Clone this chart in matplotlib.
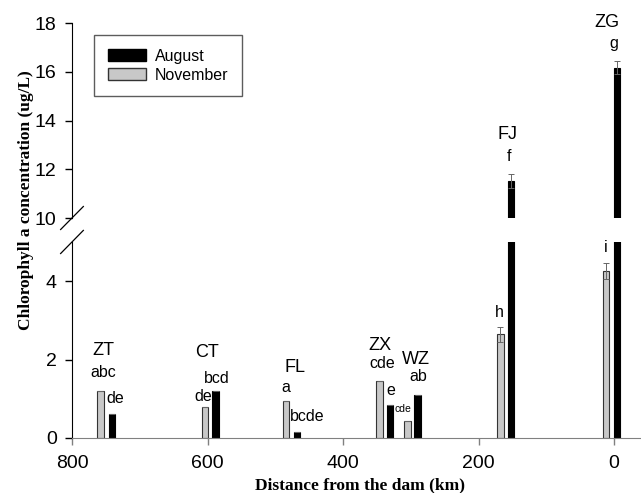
import numpy as np
import matplotlib
matplotlib.use("Agg")
import matplotlib.pyplot as plt
from matplotlib.patches import Patch

plt.rcParams['font.family'] = ['Liberation Sans', 'DejaVu Sans']

# sampling sites, distance from the dam (km)
sites = ["ZT", "CT", "FL", "ZX", "WZ", "FJ", "ZG"]
nov_x = [758, 604, 484, 346, 305, 168, 12]
aug_x = [741, 588, 468, 331, 290, 152, -4]

# chlorophyll a (ug/L)
nov_val = [1.21, 0.78, 0.94, 1.45, 0.43, 2.64, 4.26]
aug_val = [0.60, 1.20, 0.14, 0.85, 1.09, 11.52, 16.17]
nov_err = [0.0, 0.0, 0.0, 0.0, 0.0, 0.18, 0.20]
aug_err = [0.0, 0.0, 0.0, 0.0, 0.0, 0.28, 0.26]

# significance letters (text, x, y)
site_lbl = [("ZT", 754, 2.24), ("CT", 601, 2.17), ("FL", 471, 1.79),
            ("ZX", 345, 2.35), ("WZ", 292, 1.99), ("FJ", 158, 13.41),
            ("ZG", 10, 18.04)]
letters = [("abc", 754, 1.68), ("de", 736, 1.00), ("de", 606, 1.07),
           ("bcd", 586, 1.53), ("a", 484, 1.30), ("bcde", 453, 0.56),
           ("cde", 342, 1.89), ("e", 329, 1.22), ("ab", 289, 1.58),
           ("h", 170, 3.21), ("i", 12, 4.87), ("f", 155, 12.51),
           ("g", 0, 17.18)]
small_letters = [("cde", 311, 0.74)]

gray = "#c8c8c8"
w = 9.5

fig = plt.figure(figsize=(6.41, 4.93), dpi=100)
ax_lo = fig.add_axes([0.1123, 0.1116, 0.886, 0.3976])
ax_hi = fig.add_axes([0.1123, 0.5578, 0.886, 0.3955])

for ax in (ax_lo, ax_hi):
    ax.bar(nov_x, nov_val, width=w, color=gray, edgecolor="#333333", linewidth=0.8,
           yerr=nov_err, error_kw=dict(ecolor="#666666", elinewidth=0.7, capsize=2, capthick=0.7))
    ax.bar(aug_x, aug_val, width=w, color="black", edgecolor="black", linewidth=0.8,
           yerr=aug_err, error_kw=dict(ecolor="#666666", elinewidth=0.7, capsize=2, capthick=0.7))
    ax.set_xlim(800, -38)
    ax.spines['top'].set_visible(False)
    ax.spines['right'].set_visible(False)
    ax.tick_params(labelsize=14, direction='out', length=5, width=1)
    ax.tick_params(axis='y', pad=6)

ax_lo.set_ylim(0, 5)
ax_lo.set_yticks([0, 2, 4])
ax_lo.set_xticks([800, 600, 400, 200, 0])
ax_lo.spines['bottom'].set_color("#808080")
ax_lo.tick_params(axis='x', colors="#808080", labelcolor="black", pad=7)

ax_hi.set_ylim(10, 18)
ax_hi.set_yticks([10, 12, 14, 16, 18])
ax_hi.spines['bottom'].set_visible(False)
ax_hi.set_xticks([])

for t, x, y in site_lbl:
    ax = ax_hi if y > 10 else ax_lo
    ax.text(x, y, t, ha='center', va='center', fontsize=13)
for t, x, y in letters:
    ax = ax_hi if y > 10 else ax_lo
    ax.text(x, y, t, ha='center', va='center', fontsize=11.5)
for t, x, y in small_letters:
    ax_lo.text(x, y, t, ha='center', va='center', fontsize=7.5)

# break marks on the y axis
d = 0.02
dy_hi = 0.059
ax_hi.plot([-d, d], [-dy_hi, dy_hi], transform=ax_hi.transAxes, color="black",
           lw=0.9, clip_on=False)
dy_lo = 0.059
ax_lo.plot([-d, d], [1 - dy_lo, 1 + dy_lo], transform=ax_lo.transAxes, color="black",
           lw=0.9, clip_on=False)

handles = [Patch(facecolor="black", edgecolor="black", label="August"),
           Patch(facecolor=gray, edgecolor="#333333", label="November")]
ax_hi.legend(handles=handles, loc='upper left', bbox_to_anchor=(0.0387, 0.938),
             borderaxespad=0, fontsize=11.5, frameon=True, fancybox=False,
             edgecolor="#333333", handlelength=2.4, handleheight=0.75,
             handletextpad=0.55, borderpad=0.85, labelspacing=0.25)

fig.text(0.04, 0.595, "Chlorophyll a concentration (ug/L)", rotation=90,
         ha='center', va='center', fontsize=12.5, fontweight='bold',
         family=['Liberation Serif', 'DejaVu Serif'])
fig.text(0.562, 0.016, "Distance from the dam (km)", ha='center', va='center',
         fontsize=12.5, fontweight='bold', family=['Liberation Serif', 'DejaVu Serif'])

fig.savefig("out.png", dpi=100)
